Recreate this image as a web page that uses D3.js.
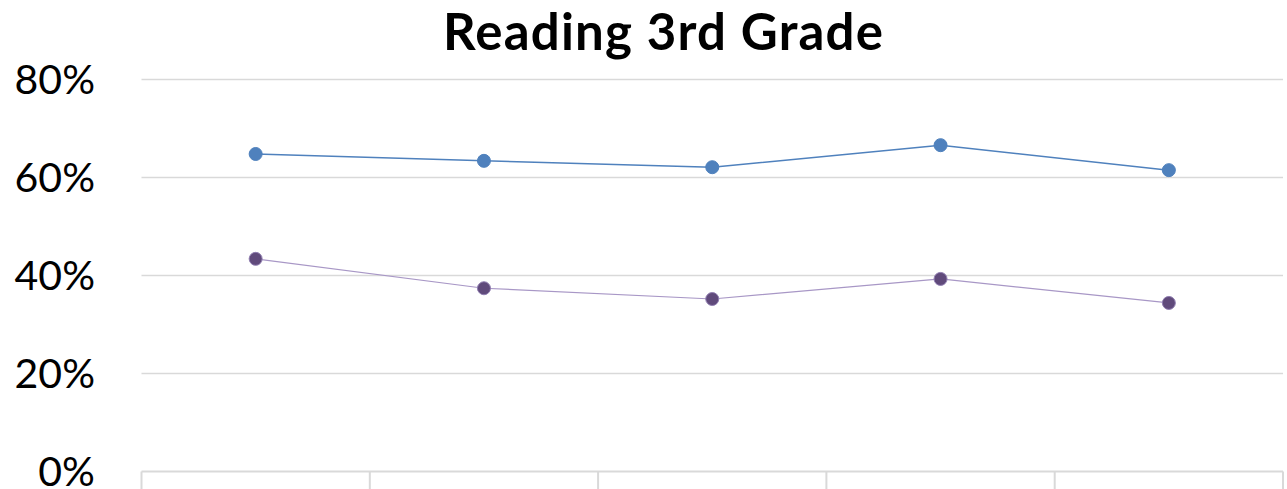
<!DOCTYPE html>
<html>
<head>
<meta charset="utf-8">
<script src="https://cdn.jsdelivr.net/npm/d3@7"></script>
<style>
  body { margin: 0; background: #fff; }
  svg text { font-family: Lato, "Open Sans", sans-serif; }
</style>
</head>
<body>
<svg id="chart" width="1287" height="489"></svg>
<script>
// data (category names are cut off in the reference)
const categories = ["c1", "c2", "c3", "c4", "c5"];
const blueValues = [0.648, 0.634, 0.621, 0.666, 0.615];
const purpleValues = [0.434, 0.374, 0.352, 0.393, 0.344];
const yTicks = [0, 0.2, 0.4, 0.6, 0.8];

var svg = d3.select("#chart"),
    width = +svg.attr("width"),
    height = +svg.attr("height");

var plotLeft = 141.5, plotRight = 1283, plotTop = 79.5, plotBottom = 471.5;

var x = d3.scaleBand()
    .domain(categories)
    .range([plotLeft, plotRight]);

var y = d3.scaleLinear()
    .domain([0, 0.8])
    .range([plotBottom, plotTop]);

// title
svg.append("text")
    .attr("x", 663)
    .attr("y", 50)
    .attr("text-anchor", "middle")
    .attr("textLength", 440)
    .attr("lengthAdjust", "spacing")
    .style("font-weight", "bold")
    .style("font-size", "51px")
    .style("fill", "#000")
    .text("Reading 3rd Grade");

// gridlines
svg.append("g")
    .selectAll("line")
    .data(yTicks.filter(d => d > 0))
    .enter()
    .append("line")
    .attr("x1", plotLeft)
    .attr("x2", plotRight)
    .attr("y1", d => y(d))
    .attr("y2", d => y(d))
    .style("stroke", "#d9d9d9")
    .style("stroke-width", 1.5);

// y labels
svg.append("g")
    .selectAll("text")
    .data(yTicks)
    .enter()
    .append("text")
    .attr("x", 95)
    .attr("y", d => y(d))
    .attr("dy", "0.36em")
    .attr("text-anchor", "end")
    .style("font-size", "41px")
    .style("fill", "#000")
    .text(d3.format(".0%"));

// x axis with tick marks going down
var xAxis = d3.axisBottom(x).tickSize(0).tickFormat("");
var gx = svg.append("g")
    .attr("transform", "translate(0," + plotBottom + ")")
    .call(xAxis);
gx.select(".domain").remove();
gx.append("line")
    .attr("x1", plotLeft)
    .attr("x2", plotRight)
    .style("stroke", "#d9d9d9")
    .style("stroke-width", 2);
gx.selectAll("line.sep")
    .data(categories.concat(["end"]))
    .enter()
    .append("line")
    .attr("class", "sep")
    .attr("x1", (d, i) => i < categories.length ? x(d) : plotRight)
    .attr("x2", (d, i) => i < categories.length ? x(d) : plotRight)
    .attr("y1", 0)
    .attr("y2", 20)
    .style("stroke", "#d9d9d9")
    .style("stroke-width", 2);

var cx = d => x(d) + x.bandwidth() / 2;

function drawSeries(values, lineColor, lineWidth, fill, stroke) {
    var line = d3.line()
        .x((d, i) => cx(categories[i]))
        .y(d => y(d));
    svg.append("path")
        .datum(values)
        .attr("d", line)
        .attr("fill", "none")
        .style("stroke", lineColor)
        .style("stroke-width", lineWidth);
    svg.append("g")
        .selectAll("circle")
        .data(values)
        .enter()
        .append("circle")
        .attr("cx", (d, i) => cx(categories[i]))
        .attr("cy", d => y(d))
        .attr("r", 6.5)
        .style("fill", fill)
        .style("stroke", stroke)
        .style("stroke-width", 1);
}

drawSeries(blueValues, "#4f81bd", 1.5, "#4f81bd", "#4f81bd");
drawSeries(purpleValues, "#a897c6", 1.2, "#604a7b", "#8f7db0");
</script>
</body>
</html>
